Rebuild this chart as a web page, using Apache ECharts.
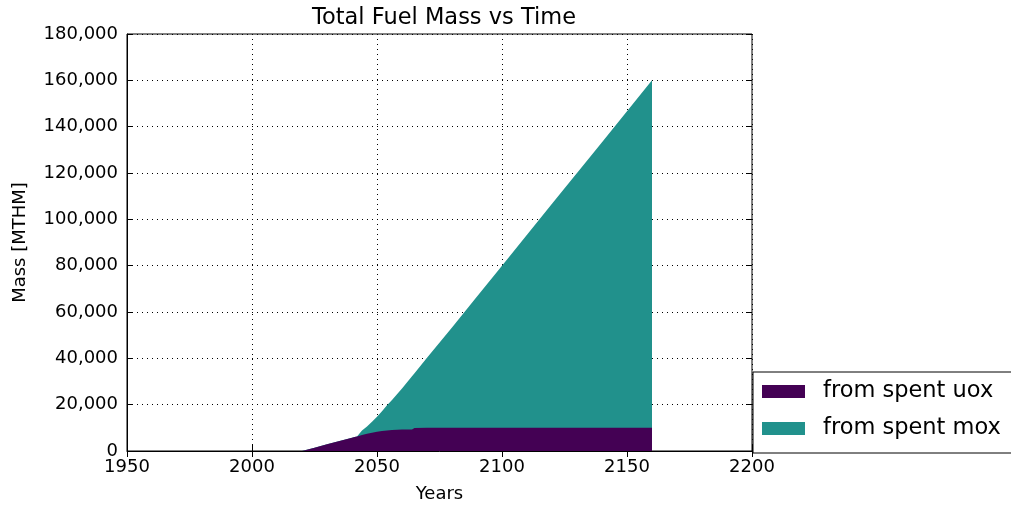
<!DOCTYPE html>
<html>
<head>
<meta charset="utf-8">
<script src="https://cdn.jsdelivr.net/npm/echarts@6/dist/echarts.min.js"></script>
<style>
  html, body { margin: 0; padding: 0; background: #fff; }
  #chart { width: 1011px; height: 510px; }
</style>
</head>
<body>
<div id="chart"></div>
<script>
// Simulation years (sample points of the stacked mass curves)
const years = [2020, 2025, 2030, 2035, 2040, 2041, 2042, 2044, 2046, 2048, 2050, 2052, 2054, 2056, 2058, 2060, 2064, 2065, 2070, 2080, 2090, 2100, 2110, 2120, 2130, 2140, 2150, 2160];
// Mass of fuel from spent UOX [MTHM]
const spentUox = [0, 1400, 2900, 4300, 5700, 6000, 6300, 6900, 7400, 7900, 8300, 8600, 8900, 9100, 9200, 9300, 9300, 9900, 10000, 10000, 10000, 10000, 10000, 10000, 10000, 10000, 10000, 10000];
// Mass of fuel from spent MOX [MTHM], stacked on top of UOX
const spentMox = [0, 0, 0, 0, 0, 0, 0, 1900, 3200, 4700, 6500, 8600, 10800, 12900, 15300, 17700, 23000, 23700, 30200, 43300, 56700, 70000, 83300, 96700, 110000, 123300, 136700, 150000];

const seriesNames = ['from spent uox', 'from spent mox'];
const seriesColors = ['#440154', '#21918c'];

const font = 'DejaVu Sans';
const chart = echarts.init(document.getElementById('chart'), null, { renderer: 'canvas' });

// Stack the two layers: the MOX band is drawn as the cumulative total,
// and the UOX band is painted over its lower part.
const stackedTop = spentUox.map((u, i) => u + spentMox[i]);
const pairs = vals => years.map((y, i) => [y, vals[i]]);
const fmt = v => Number(v).toLocaleString('en-US');

const gridLine = { show: true, lineStyle: { color: '#000', type: [1, 4], width: 1 } };
const tick = { show: true, inside: true, length: 6, lineStyle: { color: '#000' } };
const labelStyle = { fontFamily: font, fontSize: 18, color: '#000' };

const layer = (name, color, vals, z) => ({
  name, type: 'line', data: pairs(vals), symbol: 'none', color,
  lineStyle: { width: 0 },
  areaStyle: { color, opacity: 1 },
  z
});

chart.setOption({
  animation: false,
  backgroundColor: '#fff',
  title: {
    text: 'Total Fuel Mass vs Time',
    left: 439, top: 2, textAlign: 'center',
    textStyle: { fontFamily: font, fontSize: 22.5, fontWeight: 'normal', color: '#000' }
  },
  grid: { left: 127, right: 259, top: 34, bottom: 59, show: true, borderColor: '#000', borderWidth: 1, backgroundColor: 'transparent' },
  legend: {
    orient: 'vertical',
    left: 753, top: 372,
    data: seriesNames,
    itemWidth: 43, itemHeight: 13, itemGap: 14, icon: 'rect',
    padding: [8, 40, 13, 9],
    borderColor: '#000', borderWidth: 1, backgroundColor: '#fff',
    textStyle: { fontFamily: font, fontSize: 22.5, lineHeight: 22, color: '#000', padding: [0, 0, 0, 13] }
  },
  xAxis: [{
    type: 'value', min: 1950, max: 2200, interval: 50,
    name: 'Years', nameLocation: 'middle', nameGap: 34,
    nameTextStyle: labelStyle,
    axisLine: { show: true, lineStyle: { color: '#000' } },
    axisTick: tick,
    axisLabel: Object.assign({ margin: 7, formatter: v => String(v) }, labelStyle),
    splitLine: gridLine
  }, {
    type: 'value', position: 'top', min: 1950, max: 2200, interval: 50,
    axisLine: { show: false }, axisTick: tick,
    axisLabel: { show: false }, splitLine: { show: false }
  }],
  yAxis: [{
    type: 'value', min: 0, max: 180000, interval: 20000,
    name: 'Mass [MTHM]', nameLocation: 'middle', nameGap: 98, nameRotate: 90,
    nameTextStyle: labelStyle,
    axisLine: { show: true, lineStyle: { color: '#000' } },
    axisTick: tick,
    axisLabel: Object.assign({ margin: 9, formatter: fmt }, labelStyle),
    splitLine: gridLine
  }, {
    type: 'value', position: 'right', min: 0, max: 180000, interval: 20000,
    axisLine: { show: false }, axisTick: tick,
    axisLabel: { show: false }, splitLine: { show: false }
  }],
  series: [
    layer(seriesNames[1], seriesColors[1], stackedTop, 1),
    layer(seriesNames[0], seriesColors[0], spentUox, 2)
  ]
});
</script>
</body>
</html>
